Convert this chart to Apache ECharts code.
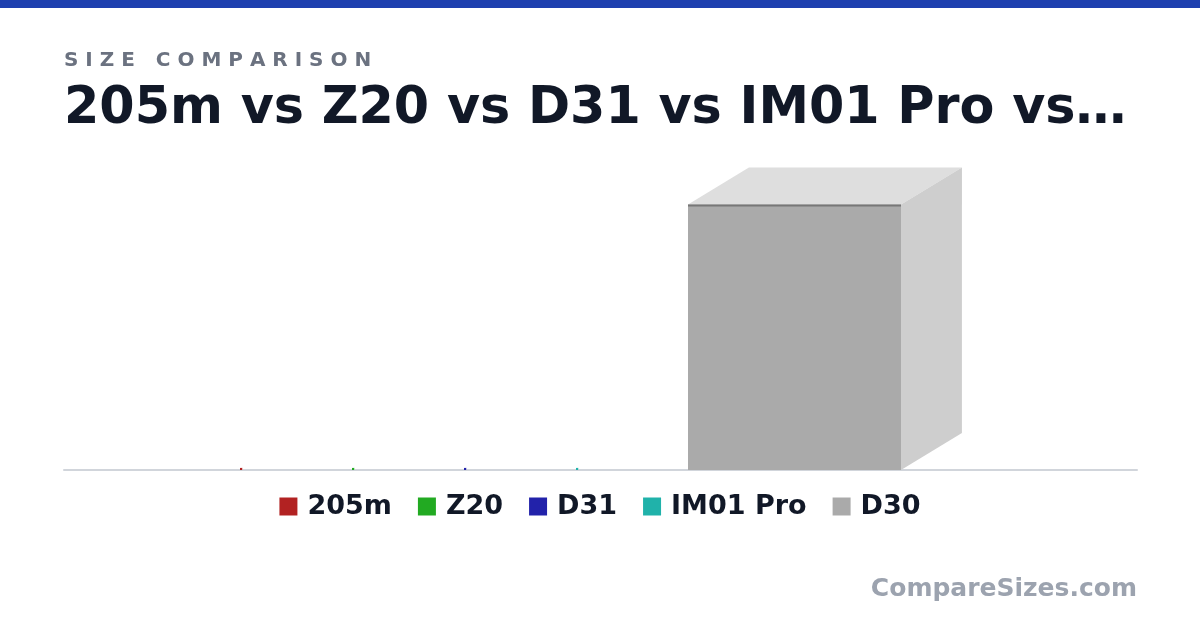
<!DOCTYPE html>
<html>
<head>
    <meta charset="UTF-8">
    <title>Size comparison</title>
    <script type="text/javascript" src="https://cdn.jsdelivr.net/npm/echarts@6/dist/echarts.min.js"></script>
    <style>
        html, body { margin: 0; padding: 0; background: #fff; }
        #chart { width: 1200px; height: 630px; }
    </style>
</head>
<body>
<div id="chart"></div>
<script type="text/javascript">
    // item names and sizes (mm)
    var names   = ['205m', 'Z20', 'D31', 'IM01 Pro', 'D30'];
    var widths  = [8, 8, 8, 8, 852];
    var heights = [8, 8, 8, 8, 1062];
    var depths  = [2, 2, 2, 2, 285];
    var colors  = ['#b22222', '#22aa22', '#2222aa', '#20b2aa', '#aaaaaa'];

    var FONT = 'DejaVu Sans';

    // mix a hex colour with white (t>0) or black (t<0)
    function shade(hex, t) {
        var n = parseInt(hex.slice(1), 16);
        var c = [(n >> 16) & 255, (n >> 8) & 255, n & 255].map(function (v) {
            return Math.round(t > 0 ? v + (255 - v) * t : v * (1 + t));
        });
        return 'rgb(' + c.join(',') + ')';
    }

    // one box per item: front face, top face, side face
    function renderBox(params, api) {
        var i = api.value(0);
        var cs = params.coordSys;
        var size = api.size([api.value(1), api.value(2)]);
        var w = Math.max(size[0], 2), h = Math.max(size[1], 2);
        var dp = api.size([api.value(3), 0])[0];
        var dx = dp * 0.855, dy = dp * 0.519;
        var x = cs.x + 176 + i * 112;
        var y0 = api.coord([0, 0])[1];
        var top = y0 - h;
        var col = colors[i];
        return {
            type: 'group',
            children: [
                { type: 'polygon', shape: { points: [[x, top], [x + w, top], [x + w + dx, top - dy], [x + dx, top - dy]] },
                  style: { fill: shade(col, 0.61) } },
                { type: 'polygon', shape: { points: [[x + w, y0], [x + w, top], [x + w + dx, top - dy], [x + w + dx, y0 - dy]] },
                  style: { fill: shade(col, 0.42) } },
                { type: 'rect', shape: { x: x, y: top, width: w, height: h }, style: { fill: col } },
                { type: 'line', shape: { x1: x, y1: top + 1, x2: x + w, y2: top + 1 },
                  style: { stroke: shade(col, -0.3), lineWidth: h > 4 ? 2 : 0 } }
            ]
        };
    }

    var series = names.map(function (n, i) {
        return {
            type: 'custom',
            name: n,
            color: colors[i],
            renderItem: renderBox,
            encode: { x: 1, y: 2 },
            data: [[i, widths[i], heights[i], depths[i]]],
            z: 3
        };
    });

    var myChart = echarts.init(document.getElementById('chart'));
    var option = {
        backgroundColor: '#ffffff',
        animation: false,
        grid: { left: 64, right: 63, top: 170, bottom: 160 },
        xAxis: {
            type: 'value', min: 0, max: 4292, offset: 1,
            axisLine: { show: true, lineStyle: { color: '#d1d5db', width: 2 } },
            axisTick: { show: false }, axisLabel: { show: false }, splitLine: { show: false }
        },
        yAxis: {
            type: 'value', min: 0, max: 1200, show: false
        },
        legend: {
            data: names,
            top: 488,
            left: 'center',
            icon: 'rect',
            itemWidth: 18,
            itemHeight: 18,
            itemGap: 26,
            textStyle: { fontFamily: FONT, fontSize: 27, fontWeight: 'bold', color: '#111827', padding: [0, 0, 0, 5] }
        },
        graphic: [
            { type: 'rect', shape: { x: 0, y: 0, width: 1200, height: 8 }, style: { fill: '#1e40af' } },
            { type: 'text', x: 64, y: 61, style: { text: 'S I Z E   C O M P A R I S O N', fontFamily: FONT, fontSize: 20,
                fontWeight: 'bold', fill: '#6b7280', verticalAlign: 'middle' } },
            { type: 'text', x: 64, y: 110, style: { text: '205m vs Z20 vs D31 vs IM01 Pro vs…', fontFamily: FONT, fontSize: 50.8,
                fontWeight: 'bold', fill: '#111827', verticalAlign: 'middle' } },
            { type: 'text', x: 1137, y: 589, style: { text: 'CompareSizes.com', fontFamily: FONT, fontSize: 25,
                fontWeight: 'bold', fill: '#9ca3af', align: 'right', verticalAlign: 'middle' } }
        ],
        series: series
    };
    myChart.setOption(option);
</script>
</body>
</html>
